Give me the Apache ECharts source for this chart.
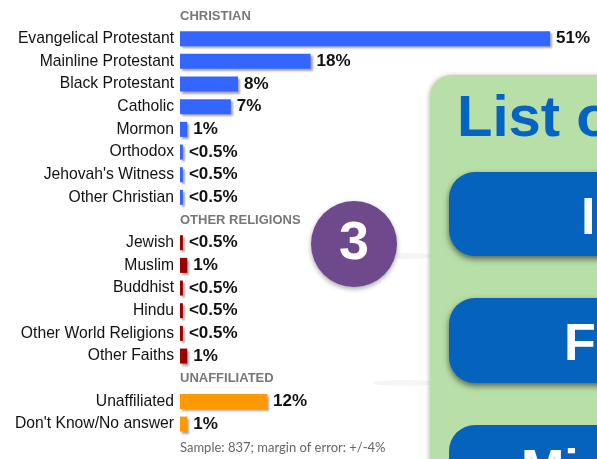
<!DOCTYPE html>
<html>
<head>
<meta charset="utf-8">
<script src="https://cdn.jsdelivr.net/npm/echarts@6/dist/echarts.min.js"></script>
<style>
  html, body { margin: 0; padding: 0; background: #fff; }
  #chart { width: 597px; height: 459px; }
</style>
</head>
<body>
<div id="chart"></div>
<script>
// rows top to bottom; '' rows carry the group headers
const categories = [
  '', 'Evangelical Protestant', 'Mainline Protestant', 'Black Protestant', 'Catholic',
  'Mormon', 'Orthodox', "Jehovah's Witness", 'Other Christian',
  '', 'Jewish', 'Muslim', 'Buddhist', 'Hindu', 'Other World Religions', 'Other Faiths',
  '', 'Unaffiliated', "Don't Know/No answer"
];
const values = [
  null, 51, 18, 8, 7, 1, 0.4, 0.4, 0.4,
  null, 0.4, 1, 0.4, 0.4, 0.4, 1,
  null, 12, 1
];
const valueLabels = [
  '', '51%', '18%', '8%', '7%', '1%', '<0.5%', '<0.5%', '<0.5%',
  '', '<0.5%', '1%', '<0.5%', '<0.5%', '<0.5%', '1%',
  '', '12%', '1%'
];
const groups = [
  null, 0, 0, 0, 0, 0, 0, 0, 0,
  null, 1, 1, 1, 1, 1, 1,
  null, 2, 2
];
const headers = ['CHRISTIAN', '', '', '', '', '', '', '', '',
  'OTHER RELIGIONS', '', '', '', '', '', '',
  'UNAFFILIATED', '', ''];
const groupColors = ['#3366ff', '#990000', '#ff9900'];
const note = 'Sample: 837; margin of error: +/-4%';

const chart = echarts.init(document.getElementById('chart'));

const barData = values.map((v, i) => v === null ? '-' : {
  value: v,
  itemStyle: { color: groupColors[groups[i]] },
  label: { formatter: valueLabels[i] }
});
const headerData = headers.map(h => h ? { value: 0, label: { formatter: h } } : '-');

const option = {
  animation: false,
  grid: { left: 180, top: 4.7, width: 370, height: 430.7 },
  xAxis: { type: 'value', min: 0, max: 51, show: false },
  yAxis: {
    type: 'category',
    data: categories,
    inverse: true,
    axisLine: { show: false },
    axisTick: { show: false },
    axisLabel: { margin: 6, color: '#111', fontSize: 15.7, fontFamily: 'Liberation Sans' }
  },
  series: [
    {
      type: 'bar',
      data: barData,
      barWidth: 15,
      itemStyle: {
        shadowColor: 'rgba(0,0,0,0.35)', shadowBlur: 2, shadowOffsetX: 2, shadowOffsetY: 2
      },
      label: {
        show: true, position: 'right', distance: 6,
        color: '#111', fontSize: 17, fontWeight: 'bold', fontFamily: 'Liberation Sans'
      }
    },
    {
      type: 'bar',
      data: headerData,
      barGap: '-100%',
      barWidth: 15,
      itemStyle: { color: 'transparent' },
      label: {
        show: true, position: 'insideLeft', distance: 0,
        color: '#777', fontSize: 13, fontWeight: 'bold', fontFamily: 'Liberation Sans'
      },
      silent: true
    }
  ],
  graphic: [
    {
      type: 'text', left: 180, top: 441,
      style: { text: note, fill: '#666', fontSize: 13, fontFamily: 'Lato' }
    },
    {
      type: 'group', z: 100,
      children: [
        {
          type: 'ellipse', shape: { cx: 405, cy: 256, rx: 32, ry: 3 },
          style: { fill: 'rgba(0,0,0,0.04)', shadowColor: 'rgba(0,0,0,0.18)', shadowBlur: 10 }
        },
        {
          type: 'ellipse', shape: { cx: 405, cy: 383, rx: 32, ry: 3 },
          style: { fill: 'rgba(0,0,0,0.04)', shadowColor: 'rgba(0,0,0,0.18)', shadowBlur: 10 }
        },
        {
          type: 'rect', shape: { x: 430, y: 75, width: 220, height: 420, r: 22 },
          style: { fill: '#b9dfa9', shadowColor: 'rgba(0,0,0,0.25)', shadowBlur: 4, shadowOffsetX: -1 }
        },
        {
          type: 'text', x: 457, y: 91,
          style: { text: 'List o', fill: '#0563c1', fontSize: 58, fontWeight: 'bold', fontFamily: 'Liberation Sans' }
        },
        {
          type: 'rect', shape: { x: 449, y: 172, width: 200, height: 84, r: 26 },
          style: { fill: '#0563be', shadowColor: 'rgba(0,0,0,0.55)', shadowBlur: 6, shadowOffsetY: 3 }
        },
        {
          type: 'text', x: 581, y: 194,
          style: { text: 'Ic', fill: '#fff', fontSize: 52, fontWeight: 'bold', fontFamily: 'Liberation Sans' }
        },
        {
          type: 'rect', shape: { x: 449, y: 298, width: 200, height: 85, r: 26 },
          style: { fill: '#0563be', shadowColor: 'rgba(0,0,0,0.55)', shadowBlur: 6, shadowOffsetY: 3 }
        },
        {
          type: 'text', x: 564, y: 320,
          style: { text: 'Fi', fill: '#fff', fontSize: 52, fontWeight: 'bold', fontFamily: 'Liberation Sans' }
        },
        {
          type: 'rect', shape: { x: 449, y: 425, width: 200, height: 80, r: 26 },
          style: { fill: '#0563be' }
        },
        {
          type: 'text', x: 521, y: 446,
          style: { text: 'Mi', fill: '#fff', fontSize: 52, fontWeight: 'bold', fontFamily: 'Liberation Sans' }
        },
        {
          type: 'circle', shape: { cx: 354, cy: 244, r: 43 },
          style: { fill: '#6e4a8c', shadowColor: 'rgba(0,0,0,0.35)', shadowBlur: 5, shadowOffsetY: 2 }
        },
        {
          type: 'text', x: 354, y: 244,
          style: { text: '3', fill: '#fff', fontSize: 54, fontWeight: 'bold', fontFamily: 'Liberation Sans', align: 'center', verticalAlign: 'middle' }
        }
      ]
    }
  ]
};

chart.setOption(option);
window.addEventListener('resize', () => chart.resize());
</script>
</body>
</html>
